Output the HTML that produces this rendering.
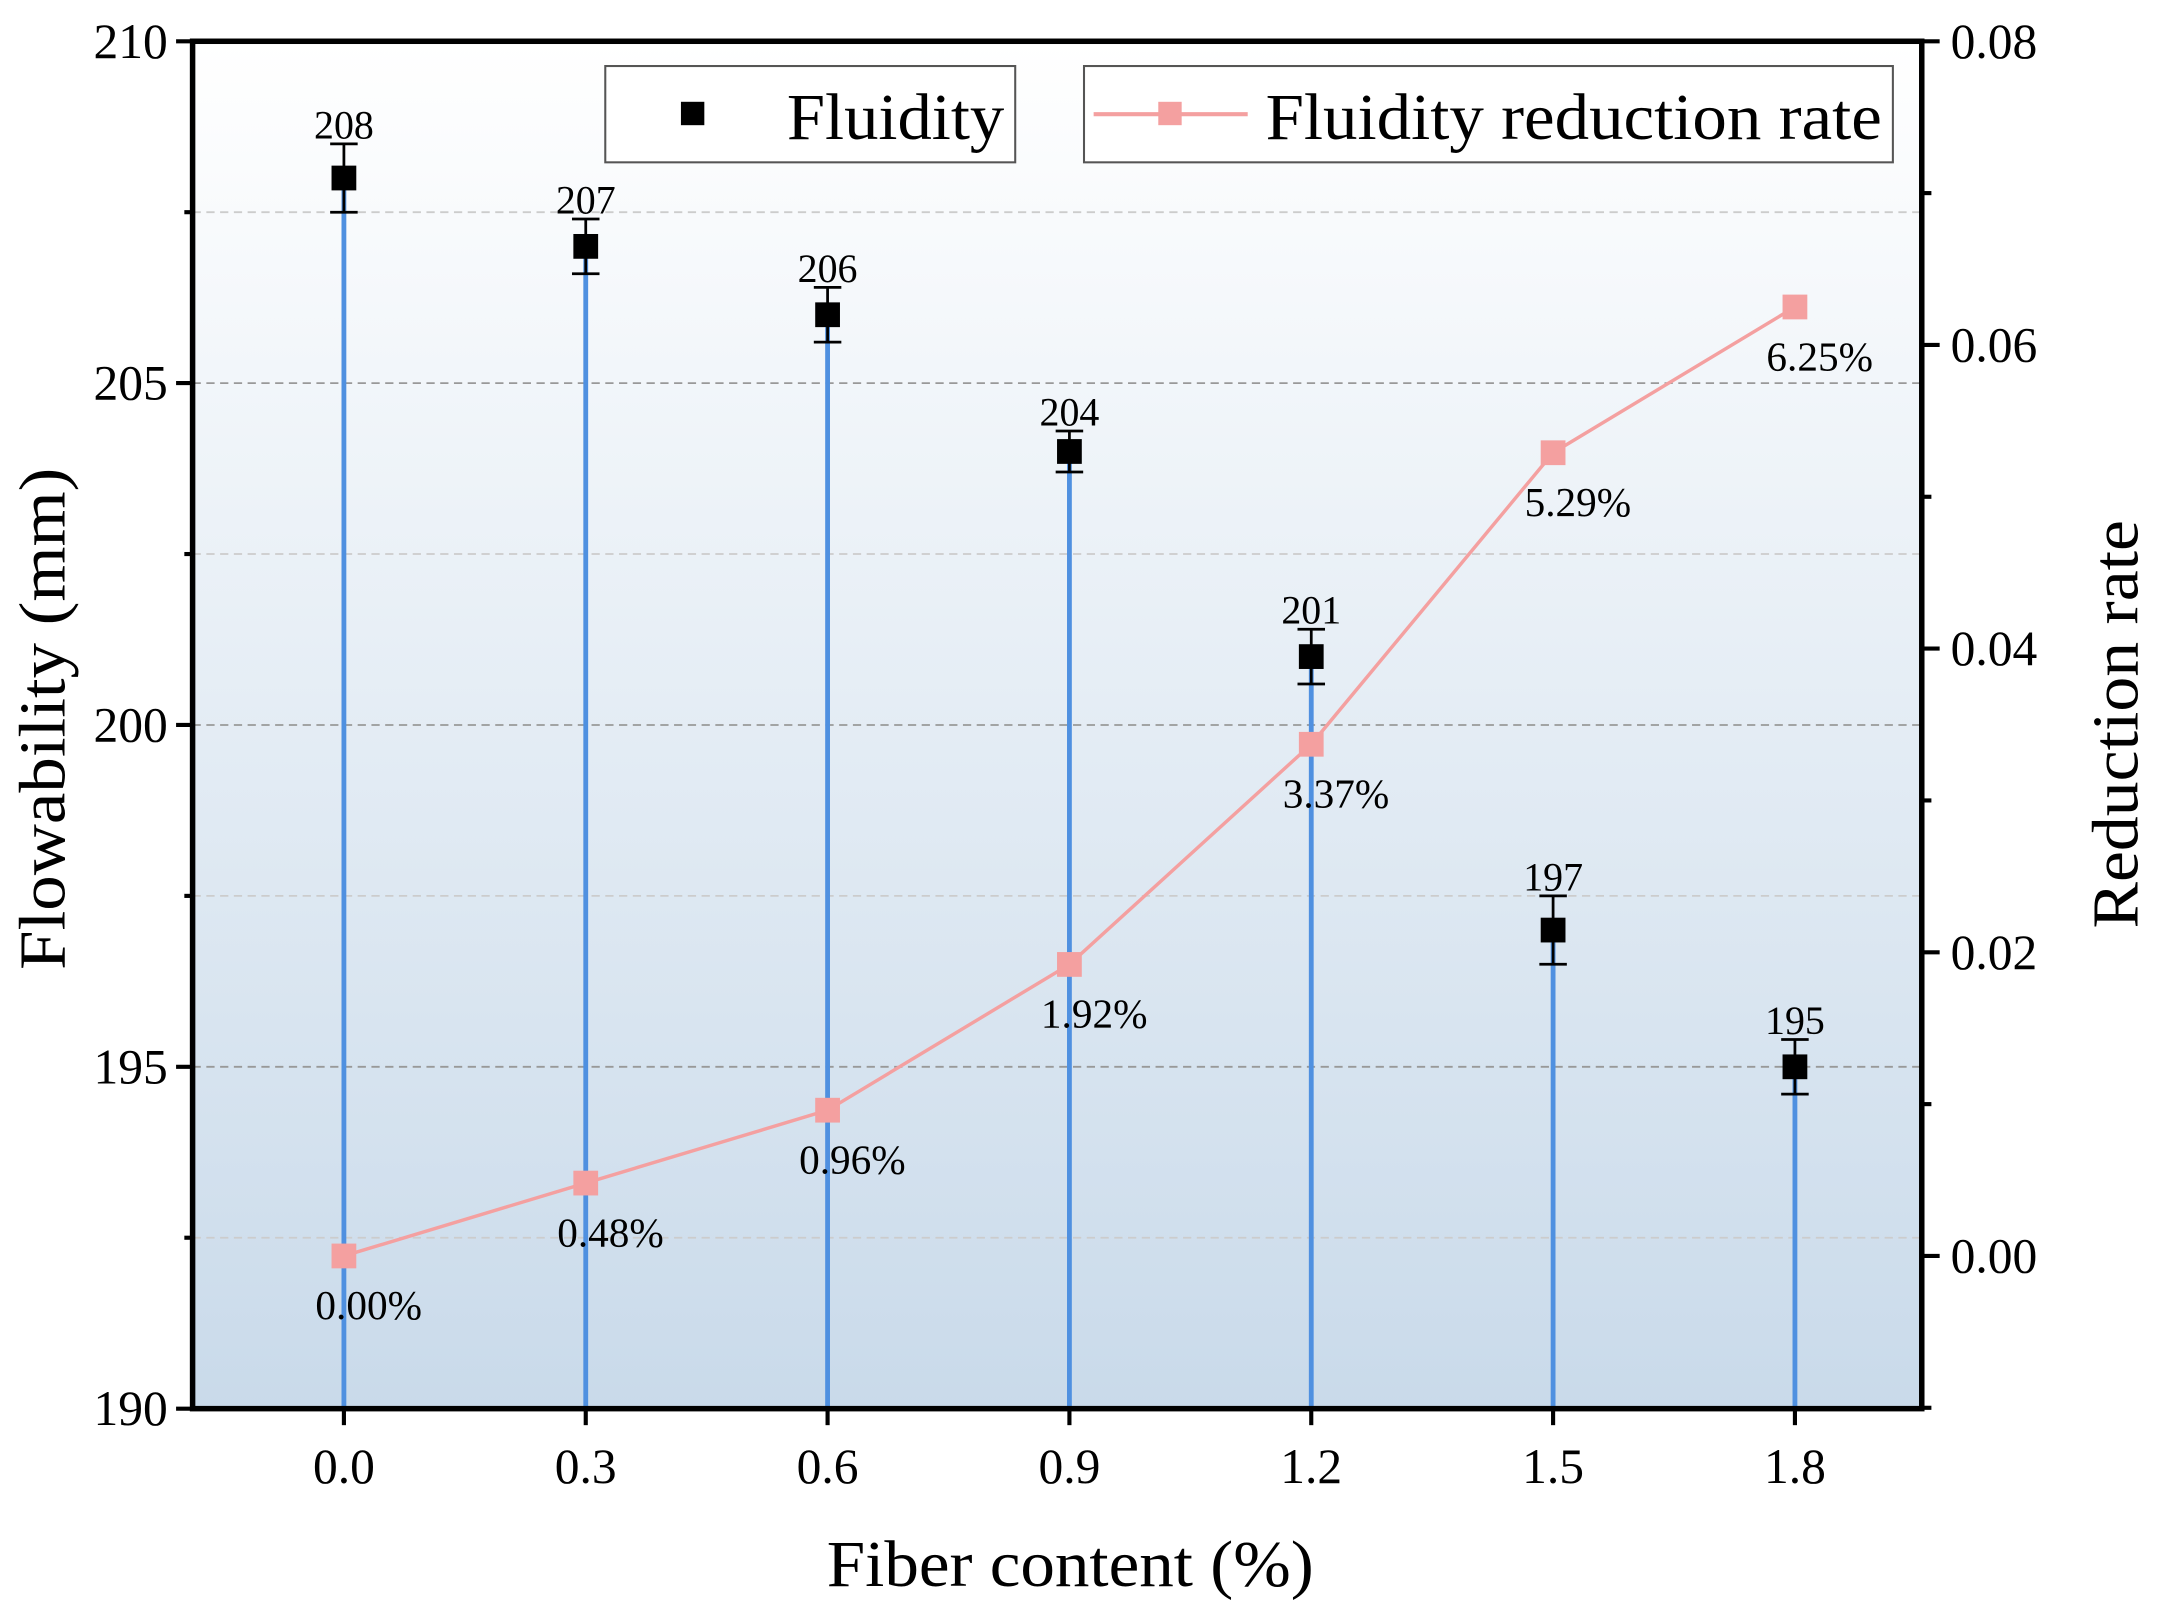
<!DOCTYPE html>
<html><head><meta charset="utf-8"><style>
html,body{margin:0;padding:0;background:#fff}
svg{display:block}
text{font-family:"Liberation Serif",serif;fill:#000}
</style></head><body>
<svg id="chart" width="2157" height="1615" viewBox="0 0 1568 1174" xmlns="http://www.w3.org/2000/svg">
<defs><linearGradient id="bg" x1="0" y1="0" x2="0" y2="1">
<stop offset="0" stop-color="#ffffff"/><stop offset="1" stop-color="#c9daea"/></linearGradient></defs>
<rect x="140" y="30" width="1257" height="994" fill="url(#bg)"/>
<g id="grid"></g>
<g id="drops"></g>
<g id="line"></g>
<g id="points"></g>
<g id="axes"></g>
<g>
<rect x="440" y="48" width="298" height="70" fill="#fff" stroke="#555" stroke-width="1.5"/>
<rect x="495" y="74" width="17" height="17" fill="#000"/>
<text x="572" y="101" font-size="48" textLength="158" lengthAdjust="spacingAndGlyphs">Fluidity</text>
<rect x="788" y="48" width="588" height="70" fill="#fff" stroke="#555" stroke-width="1.5"/>
<line x1="795" y1="83" x2="907" y2="83" stroke="#f4a0a0" stroke-width="3"/>
<rect x="842" y="74" width="17" height="17" fill="#f4a0a0"/>
<text x="920" y="101" font-size="48" textLength="448" lengthAdjust="spacingAndGlyphs">Fluidity reduction rate</text>
</g>
<text x="601" y="1153" font-size="48" textLength="354" lengthAdjust="spacingAndGlyphs">Fiber content (%)</text>
<text transform="translate(47,705) rotate(-90)" font-size="48" textLength="365" lengthAdjust="spacingAndGlyphs">Flowability (mm)</text>
<text transform="translate(1554,675) rotate(-90)" font-size="48" textLength="297" lengthAdjust="spacingAndGlyphs">Reduction rate</text>
</svg>
<script>
const categories=[0.0,0.3,0.6,0.9,1.2,1.5,1.8];
const xLabels=["0.0","0.3","0.6","0.9","1.2","1.5","1.8"];
const fluidity=[208,207,206,204,201,197,195];
const fluidityErr=[0.5,0.4,0.4,0.3,0.4,0.5,0.4];
const reduction=[0,0.0048,0.0096,0.0192,0.0337,0.0529,0.0625];
const reductionLabels=["0.00%","0.48%","0.96%","1.92%","3.37%","5.29%","6.25%"];
const leftTicks=[190,195,200,205,210];
const rightTicks=[0,0.02,0.04,0.06,0.08];
const NS="http://www.w3.org/2000/svg";
const X=v=>250+(v/0.3)*175.8;
const YL=v=>1024-(v-190)*(994/20);
const YR=v=>913-v*(883/0.08);
function mk(p,t,a){const e=document.createElementNS(NS,t);for(const k in a)e.setAttribute(k,a[k]);p.appendChild(e);return e;}
const g=id=>document.getElementById(id);
[192.5,195,197.5,200,202.5,205,207.5].forEach(v=>{const maj=v%5===0;
const l=mk(g('grid'),'line',{x1:140,x2:1397,y1:YL(v),y2:YL(v),stroke:maj?'#999':'#ccc','stroke-width':1.3,'stroke-dasharray':'6,4'});

});
categories.forEach((c,i)=>{
const x=X(c),y=YL(fluidity[i]);
const d=mk(g('drops'),'line',{x1:x,x2:x,y1:y,y2:1024,stroke:'#4f90e0','stroke-width':3.5});


const e1=YL(fluidity[i]+fluidityErr[i]),e2=YL(fluidity[i]-fluidityErr[i]);
const eb=mk(g('points'),'path',{d:`M${x},${e1}V${e2}M${x-10},${e1}H${x+10}M${x-10},${e2}H${x+10}`,stroke:'#000','stroke-width':2,fill:'none'});


const p=mk(g('points'),'rect',{x:x-9,y:y-9,width:18,height:18,fill:'#000'});


const t=mk(g('points'),'text',{x:x,y:e1-4,'font-size':29,'text-anchor':'middle'});t.textContent=fluidity[i];


});
const pl=mk(g('line'),'polyline',{points:categories.map((c,i)=>X(c)+','+YR(reduction[i])).join(' '),fill:'none',stroke:'#f4a0a0','stroke-width':2.5});


categories.forEach((c,i)=>{const x=X(c),y=YR(reduction[i]);
const m=mk(g('line'),'rect',{x:x-9,y:y-9,width:18,height:18,fill:'#f4a0a0'});


const t=mk(g('line'),'text',{x:x+18,y:y+46,'font-size':30,'text-anchor':'middle'});t.textContent=reductionLabels[i];

});
const A=g('axes');
const fr=mk(A,'rect',{x:140,y:30,width:1257,height:994,fill:'none',stroke:'#000','stroke-width':4});


leftTicks.forEach(v=>{const y=YL(v);
const tk=mk(A,'line',{x1:128,x2:140,y1:y,y2:y,stroke:'#000','stroke-width':3});


const t=mk(A,'text',{x:122,y:y+12,'font-size':36,'text-anchor':'end'});t.textContent=v;

});
[192.5,197.5,202.5,207.5].forEach(v=>{const y=YL(v);const tk=mk(A,'line',{x1:134,x2:140,y1:y,y2:y,stroke:'#000','stroke-width':3});

});
rightTicks.forEach(v=>{const y=YR(v);
const tk=mk(A,'line',{x1:1397,x2:1410,y1:y,y2:y,stroke:'#000','stroke-width':3});


const t=mk(A,'text',{x:1418,y:y+12,'font-size':36});t.textContent=v.toFixed(2);

});
[-0.01,0.01,0.03,0.05,0.07].forEach(v=>{const y=YR(v);const tk=mk(A,'line',{x1:1397,x2:1404,y1:y,y2:y,stroke:'#000','stroke-width':3});

});
categories.forEach((c,i)=>{const x=X(c);
const tk=mk(A,'line',{x1:x,x2:x,y1:1024,y2:1036,stroke:'#000','stroke-width':3});


const t=mk(A,'text',{x:x,y:1078,'font-size':36,'text-anchor':'middle'});t.textContent=xLabels[i];

});
</script>
</body></html>
